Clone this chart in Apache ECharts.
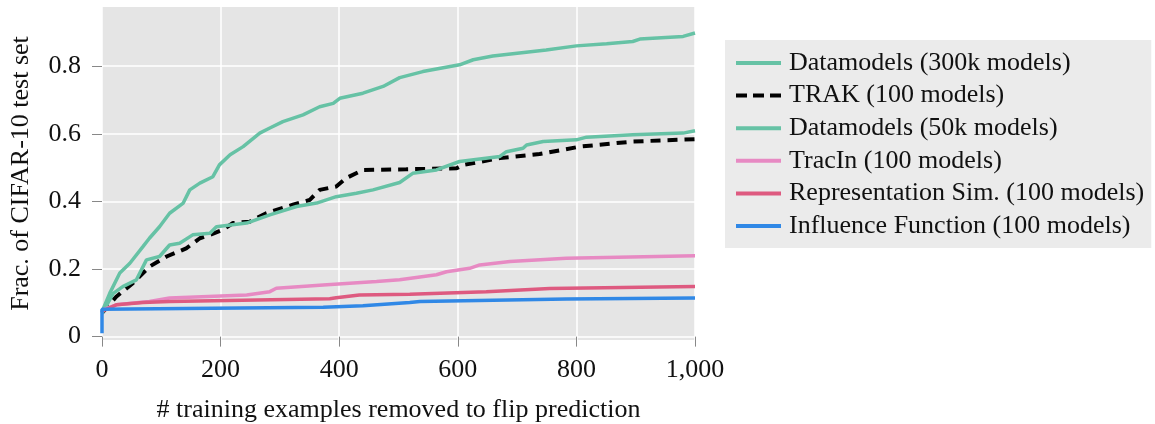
<!DOCTYPE html>
<html>
<head>
<meta charset="utf-8">
<script src="https://cdn.jsdelivr.net/npm/echarts@6/dist/echarts.min.js"></script>
<style>
  html, body { margin: 0; padding: 0; background: #fff; }
  #chart { width: 1155px; height: 424px; }
</style>
</head>
<body>
<div id="chart"></div>
<script>
const seriesNames = ['Datamodels (300k models)', 'TRAK (100 models)', 'Datamodels (50k models)',
  'TracIn (100 models)', 'Representation Sim. (100 models)', 'Influence Function (100 models)']

const xTicks = [0, 200, 400, 600, 800, 1000]
const yTicks = [0, 0.2, 0.4, 0.6, 0.8]

const dm300X = [0, 13, 30, 47, 69, 80, 97, 114, 137, 148, 165, 187, 198, 216, 238, 266, 283, 305, 339, 367, 390, 401, 440, 474, 502, 541, 603, 626, 659, 749, 800, 851, 895, 907, 980, 1000]
const dm300Y = [0.074, 0.128, 0.188, 0.217, 0.266, 0.291, 0.325, 0.365, 0.395, 0.434, 0.454, 0.473, 0.508, 0.538, 0.562, 0.602, 0.617, 0.636, 0.656, 0.680, 0.690, 0.705, 0.720, 0.740, 0.766, 0.784, 0.804, 0.819, 0.830, 0.848, 0.860, 0.866, 0.873, 0.880, 0.888, 0.898]

const trakX = [0, 24, 52, 80, 109, 142, 165, 182, 204, 221, 249, 277, 322, 350, 367, 395, 412, 440, 513, 598, 609, 671, 738, 806, 895, 1000]
const trakY = [0.07, 0.118, 0.158, 0.207, 0.237, 0.261, 0.291, 0.301, 0.316, 0.336, 0.340, 0.365, 0.390, 0.404, 0.434, 0.444, 0.469, 0.493, 0.495, 0.498, 0.508, 0.528, 0.540, 0.562, 0.577, 0.584]

const dm50X = [0, 19, 35, 58, 75, 97, 114, 131, 153, 182, 193, 244, 283, 328, 362, 395, 429, 457, 502, 524, 564, 603, 671, 682, 710, 716, 744, 800, 817, 895, 980, 1000]
const dm50Y = [0.069, 0.128, 0.148, 0.168, 0.227, 0.237, 0.271, 0.276, 0.301, 0.306, 0.325, 0.336, 0.360, 0.385, 0.395, 0.414, 0.424, 0.434, 0.456, 0.483, 0.493, 0.518, 0.533, 0.547, 0.557, 0.567, 0.577, 0.582, 0.590, 0.597, 0.602, 0.609]

const tracX = [0, 24, 80, 114, 244, 283, 294, 373, 463, 502, 564, 581, 620, 637, 688, 783, 1000]
const tracY = [0.078, 0.094, 0.104, 0.114, 0.123, 0.133, 0.143, 0.153, 0.163, 0.168, 0.183, 0.192, 0.202, 0.212, 0.222, 0.232, 0.239]

const repX = [0, 24, 69, 114, 384, 395, 434, 519, 648, 755, 1000]
const repY = [0.075, 0.094, 0.101, 0.104, 0.112, 0.115, 0.123, 0.125, 0.133, 0.142, 0.148]

const inflX = [0, 0, 373, 440, 519, 536, 783, 1000]
const inflY = [0.01, 0.081, 0.087, 0.091, 0.101, 0.104, 0.111, 0.114]

const colors = ['#66c2a5', '#000000', '#66c2a5', '#e78ac3', '#de5a80', '#3088e6']
const serif = 'Liberation Serif'

// legend samples: a solid bar, and three dashes for TRAK
const solidIcon = 'path://M0 0H45V4H0Z'
const dashIcon = 'path://M0 0H11V4H0Z M17 0H28V4H17Z M34 0H45V4H34Z'

function zip (xs, ys) {
  return xs.map((x, i) => [x, ys[i]])
}

const allData = [zip(dm300X, dm300Y), zip(trakX, trakY), zip(dm50X, dm50Y),
  zip(tracX, tracY), zip(repX, repY), zip(inflX, inflY)]

const chart = echarts.init(document.getElementById('chart'))
const option = {
  animation: false,
  grid: {
    left: 102,
    right: 460,
    top: 7,
    bottom: 84,
    outerBoundsMode: 'none',
    show: true,
    backgroundColor: '#e5e5e5',
    borderWidth: 0
  },
  legend: {
    orient: 'vertical',
    left: 725,
    top: 40,
    padding: [10, 7, 9, 11],
    backgroundColor: '#ebebeb',
    itemWidth: 45,
    itemHeight: 4,
    itemGap: 6.6,
    data: seriesNames.map((n, i) => ({ name: n, icon: i === 1 ? dashIcon : solidIcon })),
    textStyle: {
      fontFamily: serif,
      fontSize: 26,
      lineHeight: 26,
      color: '#111',
      padding: [0, 0, 0, 3]
    }
  },
  xAxis: {
    type: 'value',
    min: 0,
    max: 1000,
    interval: 200,
    name: '# training examples removed to flip prediction',
    nameLocation: 'middle',
    nameGap: 57,
    nameTextStyle: { fontFamily: serif, fontSize: 26, color: '#111' },
    axisLine: { show: false },
    axisTick: { show: true, length: 10, lineStyle: { color: '#888' } },
    axisLabel: {
      fontFamily: serif,
      fontSize: 26,
      color: '#111',
      margin: 17,
      formatter: v => xTicks.includes(v) ? v.toLocaleString('en-US') : ''
    },
    splitLine: { show: true, lineStyle: { color: '#ffffff', width: 1.5 } }
  },
  yAxis: {
    type: 'value',
    min: -0.01,
    max: 0.975,
    name: 'Frac. of CIFAR-10 test set',
    nameLocation: 'middle',
    nameGap: 68,
    nameTextStyle: { fontFamily: serif, fontSize: 26, color: '#111' },
    axisLine: { show: false },
    axisTick: { show: true, length: 10, lineStyle: { color: '#888' }, customValues: yTicks },
    axisLabel: {
      fontFamily: serif,
      fontSize: 26,
      color: '#111',
      margin: 21,
      customValues: yTicks,
      formatter: v => String(Math.round(v * 10) / 10)
    },
    splitLine: { show: true, lineStyle: { color: '#ffffff', width: 1.5 } }
  },
  series: seriesNames.map((name, i) => ({
    name: name,
    type: 'line',
    data: allData[i],
    showSymbol: false,
    symbol: 'none',
    color: colors[i],
    lineStyle: {
      color: colors[i],
      width: i === 1 ? 4 : 3.5,
      type: i === 1 ? [10, 7] : 'solid'
    }
  }))
}
chart.setOption(option)
</script>
</body>
</html>
